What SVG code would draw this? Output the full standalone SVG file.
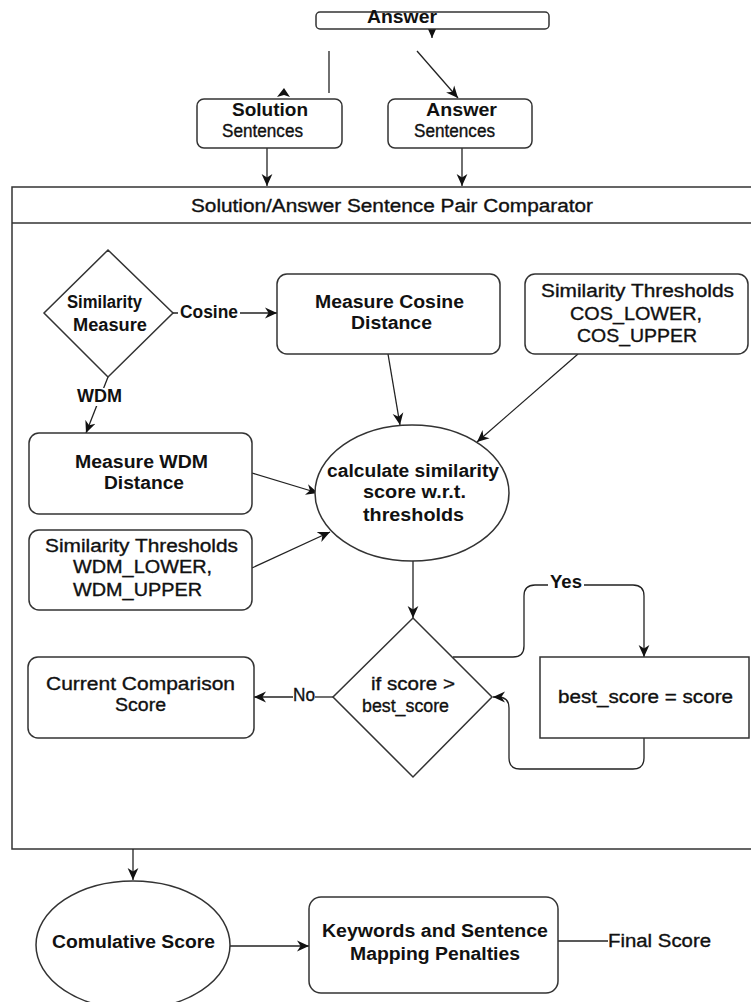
<svg xmlns="http://www.w3.org/2000/svg" width="751" height="1002" viewBox="0 0 751 1002">
<style>
.box{fill:#fff;stroke:#333;stroke-width:1.5}
.ln{fill:none;stroke:#222;stroke-width:1.3}
.t{font-family:"Liberation Sans",Arial,sans-serif;font-size:18px;fill:#111;stroke:#111;stroke-width:0.35;text-anchor:middle}
.b{font-weight:bold;stroke-width:0}
.lbl{fill:#fff;stroke:none}
</style>
<defs>
<marker id="ah" markerUnits="userSpaceOnUse" markerWidth="12" markerHeight="12" viewBox="0 0 10 10" refX="10" refY="5" orient="auto">
<path d="M0,0.5 L10,5 L0,9.5 L3,5 Z" fill="#111"/>
</marker>
</defs>
<rect width="751" height="1002" fill="#fff"/>

<g id="container">
<rect class="box" x="12" y="187" width="745" height="662"/>
<line x1="12" y1="223" x2="751" y2="223" stroke="#333" stroke-width="1.5"/>
<text class="t" x="392" y="212" font-size="19" textLength="402" lengthAdjust="spacingAndGlyphs">Solution/Answer Sentence Pair Comparator</text>
</g>

<g id="connectors">
<line class="ln" x1="432" y1="28" x2="432" y2="38" marker-end="url(#ah)"/>
<line class="ln" x1="329" y1="51" x2="329" y2="93"/>
<path d="M284,88 L290,97 L284,95 L277,97 Z" fill="#111"/>
<line class="ln" x1="417" y1="51" x2="458" y2="98" marker-end="url(#ah)"/>
<line class="ln" x1="267" y1="148" x2="267" y2="186" marker-end="url(#ah)"/>
<line class="ln" x1="462" y1="148" x2="462" y2="186" marker-end="url(#ah)"/>
<line class="ln" x1="173" y1="313" x2="277" y2="313" marker-end="url(#ah)"/>
<line class="ln" x1="108" y1="377" x2="86" y2="433" marker-end="url(#ah)"/>
<line class="ln" x1="388" y1="354" x2="400" y2="425" marker-end="url(#ah)"/>
<line class="ln" x1="578" y1="354" x2="477" y2="442" marker-end="url(#ah)"/>
<line class="ln" x1="252" y1="473" x2="318" y2="493" marker-end="url(#ah)"/>
<line class="ln" x1="252" y1="568" x2="330" y2="532" marker-end="url(#ah)"/>
<line class="ln" x1="413" y1="561" x2="413" y2="618" marker-end="url(#ah)"/>
<path class="ln" d="M453,657 L513,657 Q524,657 524,646 L524,596 Q524,585 535,585 L633,585 Q644,585 644,596 L644,657" marker-end="url(#ah)"/>
<path class="ln" d="M644,738 L644,758 Q644,769 633,769 L520,769 Q509,769 509,758 L509,708 Q509,697 498,697 L493,697" marker-end="url(#ah)"/>
<line class="ln" x1="315" y1="697" x2="333" y2="697" stroke="#999"/>
<line class="ln" x1="293" y1="697" x2="254" y2="697" marker-end="url(#ah)"/>
<line class="ln" x1="133" y1="849" x2="133" y2="880" marker-end="url(#ah)"/>
<line class="ln" x1="230" y1="946" x2="309" y2="946" marker-end="url(#ah)"/>
<line class="ln" x1="548" y1="941" x2="608" y2="941"/>
<rect class="lbl" x="178" y="304" width="62" height="18"/>
<text class="t b" x="209" y="318" font-size="16" textLength="58" lengthAdjust="spacingAndGlyphs">Cosine</text>
<rect class="lbl" x="75" y="388" width="49" height="18"/>
<text class="t b" x="99.5" y="402" font-size="16" textLength="45" lengthAdjust="spacingAndGlyphs">WDM</text>
<rect class="lbl" x="548" y="575" width="36" height="17"/>
<text class="t b" x="566" y="588" font-size="16" textLength="32" lengthAdjust="spacingAndGlyphs">Yes</text>
<text class="t" x="304" y="701" font-size="16" textLength="22" lengthAdjust="spacingAndGlyphs">No</text>
<text class="t" x="659.5" y="947" textLength="103" lengthAdjust="spacingAndGlyphs">Final Score</text>
</g>

<g id="answer">
<rect class="box" x="316" y="12" width="233" height="17" rx="4"/>
<text class="t b" x="402" y="23" font-size="14" textLength="70" lengthAdjust="spacingAndGlyphs">Answer</text>
</g>

<g id="solution-sentences">
<rect class="box" x="197" y="99" width="145" height="49" rx="7"/>
<text class="t b" x="270" y="116" textLength="76" lengthAdjust="spacingAndGlyphs">Solution</text>
<text class="t" x="262.5" y="137" font-size="17" textLength="81" lengthAdjust="spacingAndGlyphs">Sentences</text>
</g>

<g id="answer-sentences">
<rect class="box" x="388" y="99" width="144" height="49" rx="7"/>
<text class="t b" x="461.5" y="116" textLength="71" lengthAdjust="spacingAndGlyphs">Answer</text>
<text class="t" x="454.5" y="137" font-size="17" textLength="81" lengthAdjust="spacingAndGlyphs">Sentences</text>
</g>

<g id="similarity-measure">
<polygon class="box" points="108,250 173,313 108,377 44,313"/>
<text class="t b" x="104.5" y="308" font-size="17" textLength="75" lengthAdjust="spacingAndGlyphs">Similarity</text>
<text class="t b" x="110" y="331" font-size="17" textLength="74" lengthAdjust="spacingAndGlyphs">Measure</text>
</g>

<g id="measure-cosine">
<rect class="box" x="277" y="274" width="223" height="80" rx="10"/>
<text class="t b" x="389.5" y="308" textLength="149" lengthAdjust="spacingAndGlyphs">Measure Cosine</text>
<text class="t b" x="391.5" y="329" textLength="81" lengthAdjust="spacingAndGlyphs">Distance</text>
</g>

<g id="cos-thresholds">
<rect class="box" x="525" y="274" width="223" height="80" rx="10"/>
<text class="t" x="637.5" y="297" textLength="193" lengthAdjust="spacingAndGlyphs">Similarity Thresholds</text>
<text class="t" x="636" y="320" textLength="132" lengthAdjust="spacingAndGlyphs">COS_LOWER,</text>
<text class="t" x="637" y="342" textLength="120" lengthAdjust="spacingAndGlyphs">COS_UPPER</text>
</g>

<g id="measure-wdm">
<rect class="box" x="29" y="433" width="223" height="81" rx="10"/>
<text class="t b" x="141.5" y="468" textLength="133" lengthAdjust="spacingAndGlyphs">Measure WDM</text>
<text class="t b" x="144" y="489" textLength="80" lengthAdjust="spacingAndGlyphs">Distance</text>
</g>

<g id="wdm-thresholds">
<rect class="box" x="29" y="530" width="223" height="80" rx="10"/>
<text class="t" x="141.5" y="552" textLength="193" lengthAdjust="spacingAndGlyphs">Similarity Thresholds</text>
<text class="t" x="142.5" y="573" textLength="139" lengthAdjust="spacingAndGlyphs">WDM_LOWER,</text>
<text class="t" x="137.5" y="596" textLength="129" lengthAdjust="spacingAndGlyphs">WDM_UPPER</text>
</g>

<g id="calculate-similarity">
<ellipse class="box" cx="412" cy="493" rx="97" ry="68"/>
<text class="t b" x="413" y="477" textLength="172" lengthAdjust="spacingAndGlyphs">calculate similarity</text>
<text class="t b" x="414.5" y="498" textLength="103" lengthAdjust="spacingAndGlyphs">score w.r.t.</text>
<text class="t b" x="413.5" y="521" textLength="101" lengthAdjust="spacingAndGlyphs">thresholds</text>
</g>

<g id="if-score">
<polygon class="box" points="413,618 492,697 413,777 333,697"/>
<text class="t" x="413" y="690" textLength="84" lengthAdjust="spacingAndGlyphs">if score &gt;</text>
<text class="t" x="405.5" y="712" font-size="17" textLength="87" lengthAdjust="spacingAndGlyphs">best_score</text>
</g>

<g id="best-score">
<rect class="box" x="540" y="657" width="209" height="81"/>
<text class="t" x="645.5" y="703" textLength="175" lengthAdjust="spacingAndGlyphs">best_score = score</text>
</g>

<g id="current-comparison">
<rect class="box" x="28" y="657" width="226" height="81" rx="10"/>
<text class="t" x="140.5" y="690" textLength="189" lengthAdjust="spacingAndGlyphs">Current Comparison</text>
<text class="t" x="140.5" y="711" textLength="51" lengthAdjust="spacingAndGlyphs">Score</text>
</g>

<g id="comulative-score">
<ellipse class="box" cx="133" cy="945" rx="97" ry="64"/>
<text class="t b" x="133.5" y="948" font-size="17" textLength="163" lengthAdjust="spacingAndGlyphs">Comulative Score</text>
</g>

<g id="keywords-penalties">
<rect class="box" x="309" y="897" width="249" height="96" rx="12"/>
<text class="t b" x="435" y="937" font-size="17" textLength="226" lengthAdjust="spacingAndGlyphs">Keywords and Sentence</text>
<text class="t b" x="435" y="960" font-size="17" textLength="170" lengthAdjust="spacingAndGlyphs">Mapping Penalties</text>
</g>
</svg>
